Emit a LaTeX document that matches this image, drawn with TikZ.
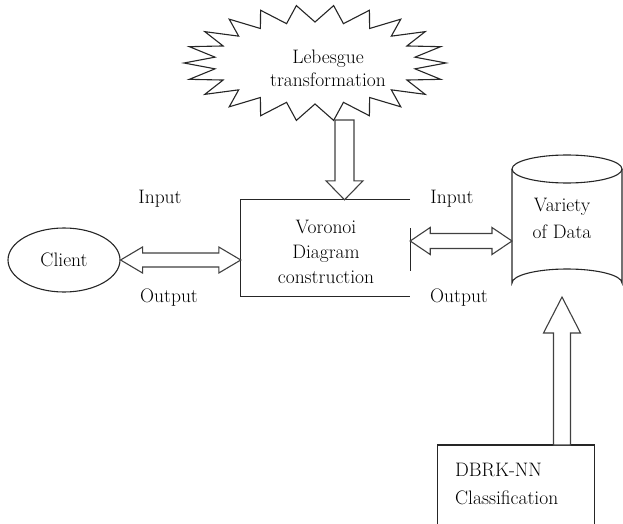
\documentclass[tikz,border=0pt]{standalone}
\usetikzlibrary{calc,shapes.geometric}
\newcommand\hdblarrow[5]{%
  \draw[blk] (#1) -- ($(#1)+(#5,-#4)$) -- ($(#1)+(#5,-#3)$) -- ($(#2)+(-#5,-#3)$) -- ($(#2)+(-#5,-#4)$) -- (#2)
    -- ($(#2)+(-#5,#4)$) -- ($(#2)+(-#5,#3)$) -- ($(#1)+(#5,#3)$) -- ($(#1)+(#5,#4)$) -- cycle;}
\begin{document}
\begin{tikzpicture}[x=1pt,y=-1pt,line join=miter,
  lbl/.style={font=\fontsize{19.5}{25}\selectfont,inner sep=0pt,align=center},
  outl/.style={draw=black!85,line width=1.1pt},
  blk/.style={draw=black!75,line width=1.1pt,fill=white}]
\useasboundingbox (0,0) rectangle (623,524);

% Lebesgue starburst
\coordinate (lebc) at (315,63);
\draw[outl,fill=white] ($(lebc)+(131,0)$)
  \foreach \i in {1,...,43}{ -- ($(lebc)+({(131-30*mod(\i,2))*cos(\i*360/44)},{(58-17*mod(\i,2))*sin(\i*360/44)})$) } -- cycle;
\node[lbl,font=\fontsize{19.5}{23}\selectfont] (leb) at (328,68) {Lebesgue\\transformation};
\coordinate (lebb) at (344.5,120);

% Voronoi box
\node[minimum width=169,minimum height=96,inner sep=0pt] (vor) at (325.5,248) {};
\draw[outl] (vor.north east) -- (vor.north west) -- (vor.south west) -- (vor.south east);
\draw[outl] ($(vor.east)+(0,-20)$) -- ($(vor.east)+(0,23)$);
\node[lbl] (vortext) at (326,252) {Voronoi\\Diagram\\construction};

% Client
\node[lbl,draw=black!85,line width=1.1pt,ellipse,minimum width=112,minimum height=64] (client) at (64,260) {Client};

% Cylinder
\coordinate (cyt) at (567,169);
\coordinate (cyb) at (567,283);
\coordinate (cylL) at ($(cyt)+(-55,0)$);
\draw[outl] (cyt) ellipse [x radius=55,y radius=14];
\draw[outl] (cylL) -- ($(cyb)+(-55,0)$) arc[start angle=180,end angle=360,x radius=55,y radius=14] -- ($(cyt)+(55,0)$);
\node[lbl,font=\fontsize{19.5}{27}\selectfont] (cyl) at (562,218) {Variety\\of Data};

% DBRK-NN box
\node[minimum width=156,minimum height=90,inner sep=0pt,anchor=north] (dbrk) at (516,445) {};
\draw[outl] (dbrk.north west |- 0,524) -- (dbrk.north west) -- (dbrk.north east) -- (dbrk.north east |- 0,524);
\node[lbl,align=left,anchor=west,font=\fontsize{19.5}{28}\selectfont] (dbrktext) at (455,484) {DBRK-NN\\Classification};

% Labels
\node[lbl] (in1) at (160,199) {Input};
\node[lbl] (out1) at (169,298) {Output};
\node[lbl] (in2) at (452,199) {Input};
\node[lbl] (out2) at (459,298) {Output};

% Arrows
\coordinate (a1) at (client.east);
\coordinate (a2) at (client.east -| vor.west);
\hdblarrow{a1}{a2}{7}{13}{22}

\coordinate (b1) at ($(vor.east)+(0,-7)$);
\coordinate (b2) at (b1 -| cylL);
\hdblarrow{b1}{b2}{7.5}{13.5}{20}

\coordinate (c2) at (lebb |- vor.north);
\draw[blk] (c2) -- ($(c2)+(-18.5,-19)$) -- ($(c2)+(-9.5,-19)$) -- ($(lebb)+(-9.5,0)$) -- ($(lebb)+(9.5,0)$)
  -- ($(c2)+(9.5,-19)$) -- ($(c2)+(18.5,-19)$) -- cycle;

\coordinate (d2) at ($(cyb)+(-5,14)$);
\coordinate (d1) at (d2 |- dbrk.north);
\draw[blk] (d2) -- ($(d2)+(-18.5,36)$) -- ($(d2)+(-8.5,36)$) -- ($(d1)+(-8.5,0)$) -- ($(d1)+(8.5,0)$)
  -- ($(d2)+(8.5,36)$) -- ($(d2)+(18.5,36)$) -- cycle;
\end{tikzpicture}
\end{document}
